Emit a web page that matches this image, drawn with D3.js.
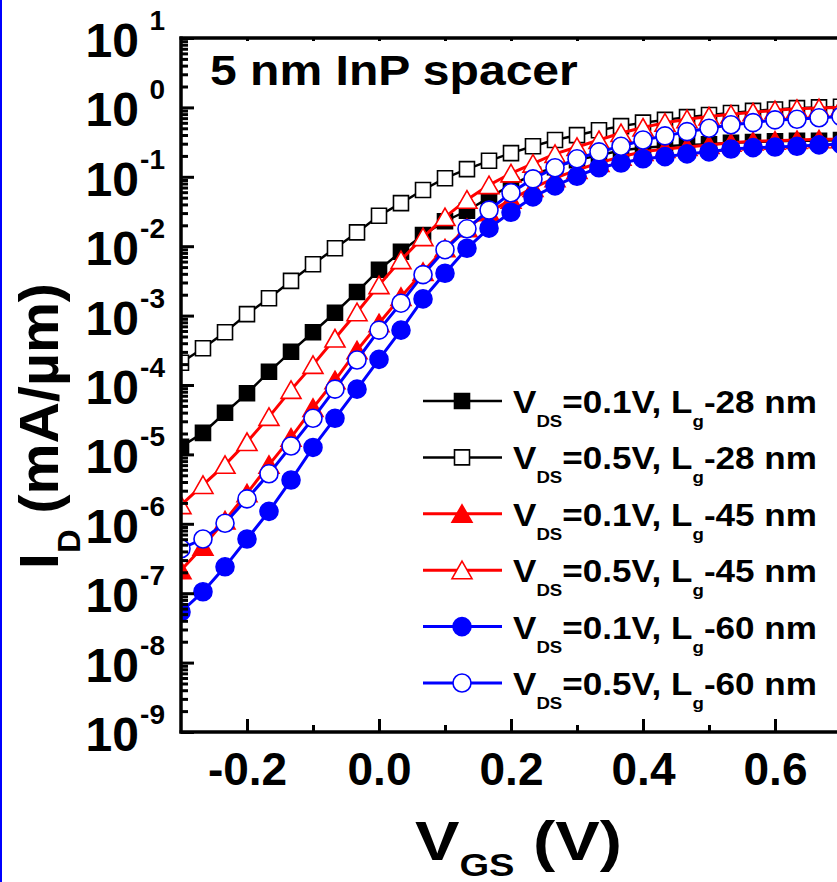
<!DOCTYPE html>
<html>
<head>
<meta charset="utf-8">
<script src="https://cdn.jsdelivr.net/npm/d3@7"></script>
<style>
  html, body { margin: 0; padding: 0; background: #fff; }
  svg { display: block; }
  text { font-family: "Liberation Sans", Arial, Helvetica, sans-serif; font-weight: bold; fill: #000; }
</style>
</head>
<body>
<script>
// gate voltage grid (V)
const vgs = [-0.3, -0.2667, -0.2333, -0.2, -0.1667, -0.1333, -0.1, -0.0667, -0.0333, 0,
  0.0333, 0.0667, 0.1, 0.1333, 0.1667, 0.2, 0.2333, 0.2667, 0.3, 0.3333, 0.3667,
  0.4, 0.4333, 0.4667, 0.5, 0.5333, 0.5667, 0.6, 0.6333, 0.6667, 0.7];

// drain current, mA/um
const id28Vd01 = [1.29e-5, 2.04e-5, 3.98e-5, 7.59e-5, 1.55e-4, 3.02e-4, 5.75e-4, 1.10e-3, 2.19e-3, 4.57e-3,
  8.32e-3, 1.45e-2, 2.29e-2, 3.24e-2, 5.01e-2, 7.59e-2, 0.107, 0.138, 0.174, 0.204,
  0.240, 0.263, 0.275, 0.288, 0.295, 0.309, 0.316, 0.324, 0.331, 0.331, 0.339];
const id28Vd05 = [2.09e-4, 3.39e-4, 5.75e-4, 1.05e-3, 1.78e-3, 3.16e-3, 5.50e-3, 9.33e-3, 1.58e-2, 2.75e-2,
  4.17e-2, 6.46e-2, 9.55e-2, 0.129, 0.170, 0.219, 0.275, 0.339, 0.398, 0.468,
  0.537, 0.603, 0.661, 0.724, 0.776, 0.832, 0.891, 0.933, 0.977, 1.00, 1.02];
const id45Vd01 = [2.14e-7, 4.68e-7, 1.12e-6, 2.75e-6, 7.08e-6, 1.74e-5, 4.68e-5, 1.17e-4, 3.16e-4, 7.76e-4,
  1.86e-3, 4.27e-3, 9.33e-3, 1.82e-2, 3.09e-2, 4.68e-2, 6.92e-2, 9.55e-2, 0.126, 0.158,
  0.195, 0.229, 0.251, 0.269, 0.288, 0.309, 0.324, 0.331, 0.339, 0.347, 0.347];
const id45Vd05 = [1.86e-6, 3.63e-6, 7.08e-6, 1.51e-5, 3.47e-5, 8.51e-5, 1.95e-4, 4.68e-4, 1.12e-3, 2.75e-3,
  6.31e-3, 1.35e-2, 2.63e-2, 4.68e-2, 7.59e-2, 0.112, 0.155, 0.214, 0.269, 0.339,
  0.427, 0.513, 0.603, 0.676, 0.741, 0.794, 0.851, 0.912, 0.955, 0.977, 1.00];
const id60Vd01 = [5.37e-8, 1.05e-7, 2.40e-7, 6.03e-7, 1.51e-6, 4.27e-6, 1.26e-5, 3.31e-5, 8.71e-5, 2.34e-4,
  6.17e-4, 1.74e-3, 4.07e-3, 9.33e-3, 1.82e-2, 3.09e-2, 5.13e-2, 7.41e-2, 0.102, 0.135,
  0.158, 0.182, 0.195, 0.214, 0.229, 0.251, 0.263, 0.269, 0.275, 0.288, 0.295];
const id60Vd05 = [4.37e-7, 6.03e-7, 1.02e-6, 2.29e-6, 5.25e-6, 1.32e-5, 3.31e-5, 8.71e-5, 2.29e-4, 6.17e-4,
  1.51e-3, 3.89e-3, 8.91e-3, 1.78e-2, 3.31e-2, 5.89e-2, 9.33e-2, 0.135, 0.182, 0.229,
  0.275, 0.339, 0.389, 0.447, 0.501, 0.562, 0.603, 0.661, 0.676, 0.708, 0.741];

const seriesVds = ["0.1", "0.5", "0.1", "0.5", "0.1", "0.5"];
const seriesLg = ["28", "28", "45", "45", "60", "60"];
const seriesColor = ["#000", "#000", "#f00", "#f00", "#00f", "#00f"];
const seriesShape = ["square", "square", "triangle", "triangle", "circle", "circle"];
const seriesFilled = [true, false, true, false, true, false];
const seriesData = [id28Vd01, id28Vd05, id45Vd01, id45Vd05, id60Vd01, id60Vd05];

const xTicksMajor = [-0.2, 0, 0.2, 0.4, 0.6];
const xTicksMinor = [-0.1, 0.1, 0.3, 0.5];
const yExponents = [1, 0, -1, -2, -3, -4, -5, -6, -7, -8, -9];

const W = 837, H = 882;
const plot = { left: 181, right: 841, top: 38, bottom: 732 };

const svg = d3.select("body").append("svg")
  .attr("width", W)
  .attr("height", H)
  .attr("viewBox", `0 0 ${W} ${H}`);

svg.append("rect").attr("width", W).attr("height", H).attr("fill", "#fff");
// blue frame edge on the left of the original figure
svg.append("line")
  .attr("x1", 1).attr("x2", 1).attr("y1", 0).attr("y2", H)
  .attr("stroke", "#00f").attr("stroke-width", 2);

const x = d3.scaleLinear().domain([-0.3, 0.7]).range([plot.left, plot.right]);
const y = d3.scaleLog().domain([1e-9, 1e1]).range([plot.bottom, plot.top]);

svg.append("clipPath").attr("id", "clip")
  .append("rect")
  .attr("x", plot.left).attr("y", plot.top)
  .attr("width", plot.right - plot.left).attr("height", plot.bottom - plot.top);

const markerPath = (shape) => {
  if (shape === "square") return "M-7.5,-7.5H7.5V7.5H-7.5Z";
  if (shape === "triangle") return "M0,-9L10,8.5H-10Z";
  return d3.symbol(d3.symbolCircle, Math.PI * 9 * 9)();
};

const drawMarker = (sel, i) => {
  sel.append("path")
    .attr("d", markerPath(seriesShape[i]))
    .attr("fill", seriesFilled[i] ? seriesColor[i] : "#fff")
    .attr("stroke", seriesColor[i])
    .attr("stroke-width", 1.6);
};

const series = seriesData.map((vals, i) => ({
  i,
  points: vals.map((v, k) => ({ vg: vgs[k], id: v })),
}));

const dataLayer = svg.append("g").attr("clip-path", "url(#clip)");

const line = d3.line().x((d) => x(d.vg)).y((d) => y(d.id));

series.forEach((s) => {
  const g = dataLayer.append("g").attr("class", "series");
  g.append("path")
    .datum(s.points)
    .attr("d", line)
    .attr("fill", "none")
    .attr("stroke", seriesColor[s.i])
    .attr("stroke-width", s.i < 2 ? 2.5 : 3);
  g.selectAll("g.pt")
    .data(s.points)
    .enter()
    .append("g")
    .attr("class", "pt")
    .attr("transform", (d) => `translate(${x(d.vg)},${y(d.id)})`)
    .each(function () { drawMarker(d3.select(this), s.i); });
});

// axes
const axisStyle = (g) => {
  g.selectAll(".domain").remove();
  g.selectAll(".tick line").attr("stroke", "#000").attr("stroke-width", 3);
};

svg.append("g")
  .attr("transform", `translate(0,${plot.bottom})`)
  .call(d3.axisBottom(x).tickValues(xTicksMajor).tickSize(-13).tickPadding(20)
    .tickFormat((d) => d.toFixed(1)))
  .call(axisStyle)
  .call((g) => g.selectAll("text").attr("font-size", 46).attr("font-family", null));

svg.append("g")
  .attr("transform", `translate(0,${plot.bottom})`)
  .call(d3.axisBottom(x).tickValues(xTicksMinor).tickSize(-7).tickFormat(""))
  .call(axisStyle);

svg.append("g")
  .attr("transform", `translate(0,${plot.top})`)
  .call(d3.axisTop(x).tickValues(xTicksMajor.concat(xTicksMinor)).tickSize(-3).tickFormat(""))
  .call(axisStyle);

const yMinor = [];
yExponents.slice(1).forEach((e) => {
  for (let m = 2; m <= 9; m++) yMinor.push(m * Math.pow(10, e));
});

svg.append("g")
  .attr("transform", `translate(${plot.left},0)`)
  .call(d3.axisLeft(y).tickValues(yExponents.map((e) => Math.pow(10, e))).tickSize(-13).tickFormat(""))
  .call(axisStyle);

svg.append("g")
  .attr("transform", `translate(${plot.left},0)`)
  .call(d3.axisLeft(y).tickValues(yMinor).tickSize(-7).tickFormat(""))
  .call(axisStyle);

// frame lines
svg.append("line")
  .attr("x1", plot.left).attr("x2", plot.left)
  .attr("y1", plot.top - 1.5).attr("y2", plot.bottom + 1.5)
  .attr("stroke", "#000").attr("stroke-width", 3.5);
svg.append("line")
  .attr("x1", plot.left - 1.5).attr("x2", W)
  .attr("y1", plot.bottom).attr("y2", plot.bottom)
  .attr("stroke", "#000").attr("stroke-width", 3.5);
svg.append("line")
  .attr("x1", plot.left - 1.5).attr("x2", W)
  .attr("y1", plot.top).attr("y2", plot.top)
  .attr("stroke", "#000").attr("stroke-width", 3.5);

// y tick labels 10^n
const yLab = svg.append("g").attr("class", "ylabels");
yExponents.forEach((e) => {
  const ty = y(Math.pow(10, e));
  yLab.append("text")
    .attr("x", 139).attr("y", ty + 19)
    .attr("text-anchor", "end")
    .attr("font-size", 48)
    .text("10");
  yLab.append("text")
    .attr("x", 165).attr("y", ty - 8)
    .attr("text-anchor", "end")
    .attr("font-size", 28)
    .text(e);
});

// axis titles
const yTitle = svg.append("text")
  .attr("transform", "translate(58,569) rotate(-90)")
  .attr("font-size", 56);
yTitle.append("tspan").text("I");
yTitle.append("tspan").attr("font-size", 32).attr("dy", 22).text("D");
yTitle.append("tspan").attr("dy", -22).text(" (mA/\u00b5m)");
const yw = yTitle.node().getComputedTextLength();
yTitle.attr("transform", `translate(58,569) rotate(-90) scale(${286 / yw},1)`);

const xTitle = svg.append("text")
  .attr("x", 0).attr("y", 0)
  .attr("font-size", 56);
xTitle.append("tspan").text("V");
xTitle.append("tspan").attr("font-size", 32).attr("dy", 16).text("GS");
xTitle.append("tspan").attr("dy", -16).text(" (V)");
const xw = xTitle.node().getComputedTextLength();
xTitle.attr("transform", `translate(415,860) scale(${207 / xw},1)`);

// panel title
const title = svg.append("text")
  .attr("x", 0).attr("y", 0)
  .attr("font-size", 42)
  .text("5 nm InP spacer");
const tw = title.node().getComputedTextLength();
title.attr("transform", `translate(210,85) scale(${368 / tw},1)`);

// legend
const legendTop = 401, legendStep = 56.4;
const legend = svg.append("g").attr("class", "legend");
series.forEach((s) => {
  const ry = legendTop + s.i * legendStep;
  const row = legend.append("g");
  row.append("line")
    .attr("x1", 423).attr("x2", 502).attr("y1", ry).attr("y2", ry)
    .attr("stroke", seriesColor[s.i]).attr("stroke-width", s.i < 2 ? 2.5 : 3);
  drawMarker(row.append("g").attr("transform", `translate(462,${ry})`), s.i);
  const t = row.append("text")
    .attr("x", 0).attr("y", 0)
    .attr("font-size", 32);
  t.append("tspan").text("V");
  t.append("tspan").attr("font-size", 17).attr("dy", 14).text("DS");
  t.append("tspan").attr("dy", -14).text(`=${seriesVds[s.i]}V, L`);
  t.append("tspan").attr("font-size", 17).attr("dy", 14).text("g");
  t.append("tspan").attr("dy", -14).text(`-${seriesLg[s.i]} nm`);
  const w = t.node().getComputedTextLength();
  t.attr("transform", `translate(513,${ry + 12}) scale(${304 / w},1)`);
});
</script>
</body>
</html>
